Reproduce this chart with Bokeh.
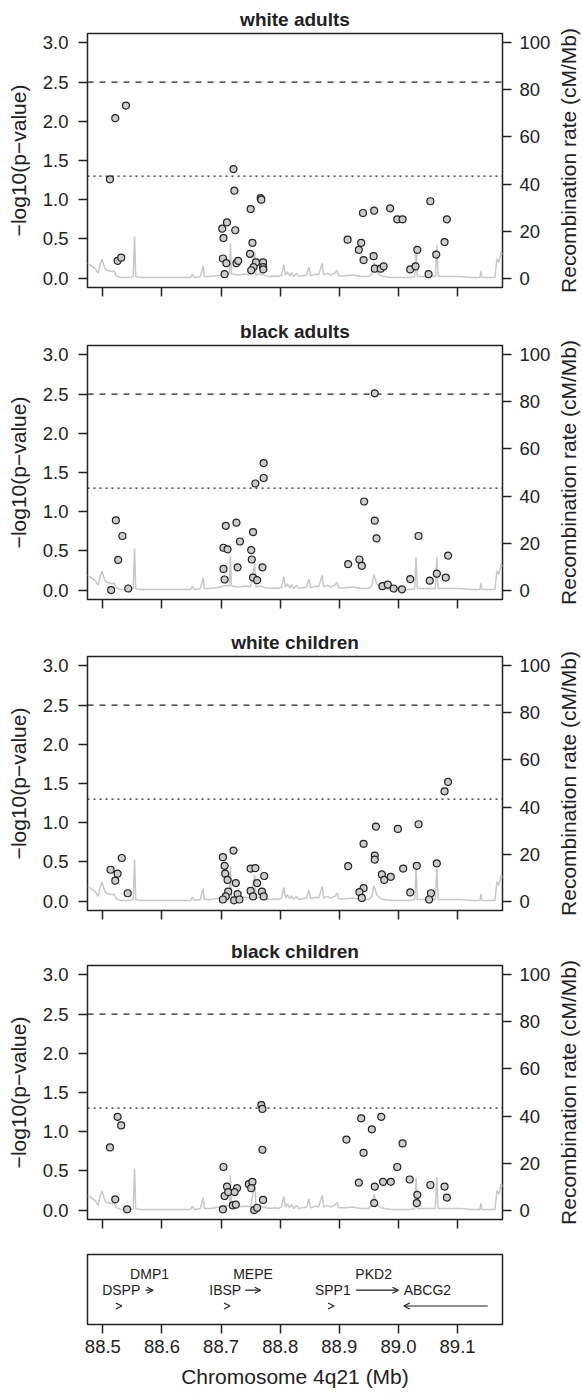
from bokeh.plotting import figure
from bokeh.models import (Range1d, LinearAxis, FixedTicker, PrintfTickFormatter,
                          Span, ColumnDataSource, Arrow, OpenHead,
                          CustomLabelingPolicy)
from bokeh.layouts import column, row
from bokeh.embed import file_html
from bokeh.resources import INLINE
from bokeh.core.properties import value

FONT = "Liberation Sans"
INK = "#222222"

# ---------------- data ----------------
x_ticks = [88.5, 88.6, 88.7, 88.8, 88.9, 89.0, 89.1]
p_ticks = [0.0, 0.5, 1.0, 1.5, 2.0, 2.5, 3.0]
rate_ticks = [0, 20, 40, 60, 80, 100]
sig_line = 2.5        # dashed threshold
nominal_line = 1.3    # dotted threshold (p = 0.05)

titles = ["white adults", "black adults", "white children", "black children"]

wa_x = [88.512, 88.521, 88.525, 88.531, 88.539,
        88.721, 88.7225, 88.767, 88.768, 88.750, 88.710, 88.702, 88.724, 88.704, 88.753,
        88.749, 88.703, 88.709, 88.726, 88.729, 88.759, 88.771, 88.755, 88.771, 88.751,
        88.7715, 88.706,
        88.914, 88.937, 88.933, 88.940, 88.959, 88.986, 88.998, 89.007, 89.054, 89.082,
        89.078, 89.032, 89.064, 88.941, 88.958, 88.960, 88.970, 88.975, 89.020, 89.029, 89.051]
wa_y = [1.26, 2.04, 0.22, 0.26, 2.20,
        1.39, 1.115, 1.02, 1.00, 0.88, 0.71, 0.63, 0.61, 0.51, 0.45,
        0.31, 0.25, 0.19, 0.19, 0.22, 0.20, 0.20, 0.14, 0.14, 0.10,
        0.11, 0.05,
        0.49, 0.45, 0.36, 0.83, 0.86, 0.89, 0.75, 0.75, 0.98, 0.75,
        0.46, 0.36, 0.30, 0.23, 0.28, 0.12, 0.12, 0.15, 0.11, 0.15, 0.05]

ba_x = [88.960, 88.772, 88.772, 88.758, 88.942, 88.522, 88.960, 88.726, 88.708, 88.533,
        89.034, 88.754, 88.732, 88.963, 88.704, 88.711, 88.751, 89.084, 88.526, 88.752,
        88.934, 88.915, 88.938, 88.704, 88.728, 88.770, 88.706, 88.754, 88.761, 89.020,
        89.053, 89.065, 89.080, 88.514, 88.543, 88.973, 88.982, 88.992, 89.006]
ba_y = [2.51, 1.62, 1.43, 1.36, 1.13, 0.89, 0.886, 0.86, 0.82, 0.69,
        0.69, 0.74, 0.62, 0.66, 0.54, 0.52, 0.51, 0.44, 0.385, 0.39,
        0.39, 0.33, 0.31, 0.27, 0.29, 0.29, 0.135, 0.16, 0.126, 0.14,
        0.12, 0.21, 0.16, 0.00, 0.02, 0.05, 0.07, 0.02, 0.01]

wc_x = [89.084, 89.078, 89.034, 88.962, 88.999, 88.941, 88.721, 88.532, 88.703, 88.960,
        88.960, 89.065, 88.915, 89.031, 88.706, 88.513, 88.750, 88.758, 89.008, 88.525,
        88.707, 88.773, 88.972, 88.987, 88.976, 88.521, 88.711, 88.725, 88.761, 88.941,
        88.934, 88.542, 88.712, 88.750, 88.769, 89.020, 88.728, 88.708, 88.754, 88.772,
        88.938, 89.055, 88.703, 88.722, 88.731, 89.052]
wc_y = [1.52, 1.40, 0.98, 0.95, 0.92, 0.73, 0.645, 0.55, 0.56, 0.58,
        0.53, 0.48, 0.445, 0.45, 0.45, 0.40, 0.415, 0.42, 0.415, 0.35,
        0.35, 0.32, 0.34, 0.31, 0.27, 0.26, 0.27, 0.23, 0.23, 0.165,
        0.115, 0.10, 0.12, 0.13, 0.12, 0.11, 0.09, 0.06, 0.06, 0.06,
        0.04, 0.10, 0.02, 0.01, 0.02, 0.02]

bc_x = [88.521, 88.541, 88.704, 88.710, 88.727, 88.706, 88.712, 88.723, 88.703, 88.720,
        88.725, 88.747, 88.753, 88.751, 88.771, 88.756, 88.761, 88.933, 88.960, 88.959,
        88.974, 88.987, 88.998, 89.019, 89.032, 89.031, 89.054, 89.078, 89.082, 88.525,
        88.768, 88.770, 88.937, 88.971, 88.512, 88.531, 88.770, 88.912, 88.941, 88.955,
        89.007]
bc_y = [0.137, 0.01, 0.55, 0.30, 0.28, 0.18, 0.23, 0.23, 0.01, 0.06,
        0.07, 0.33, 0.36, 0.28, 0.13, 0.00, 0.03, 0.35, 0.30, 0.09,
        0.36, 0.36, 0.55, 0.39, 0.195, 0.09, 0.32, 0.30, 0.16, 1.19,
        1.34, 1.29, 1.17, 1.19, 0.80, 1.08, 0.77, 0.90, 0.73, 1.03,
        0.85]

# recombination rate (cM/Mb) along the region
rec_mb = [88.4742, 88.4819, 88.4869, 88.4920, 88.4954, 88.4988, 88.5022, 88.5056, 88.5107, 88.5158,
          88.5192, 88.5225, 88.5293, 88.5378, 88.5463, 88.5514, 88.5536, 88.5556, 88.5632, 88.5802,
          88.5971, 88.6141, 88.6310, 88.6480, 88.6514, 88.6547, 88.6649, 88.6695, 88.6717, 88.6819,
          88.6903, 88.6988, 88.7073, 88.7141, 88.7158, 88.7175, 88.7293, 88.7412, 88.7497, 88.7569,
          88.7590, 88.7666, 88.7751, 88.7836, 88.7920, 88.7971, 88.8022, 88.8061, 88.8090, 88.8124,
          88.8158, 88.8192, 88.8225, 88.8276, 88.8310, 88.8378, 88.8446, 88.8485, 88.8514, 88.8598,
          88.8649, 88.8712, 88.8734, 88.8802, 88.8853, 88.8919, 88.8966, 88.8988, 88.9107, 88.9225,
          88.9361, 88.9497, 88.9547, 88.9586, 88.9632, 88.9700, 88.9869, 89.0039, 89.0208, 89.0276,
          89.0298, 89.0319, 89.0463, 89.0624, 89.0649, 89.0671, 89.0886, 89.1056, 89.1225, 89.1378,
          89.1395, 89.1412, 89.1564, 89.1632, 89.1666, 89.1700, 89.1734, 89.1768]
rec_rate = [6.3, 5.0, 4.0, 2.0, 6.0, 8.0, 5.0, 3.3, 3.0, 2.7,
            3.0, 1.0, 0.3, 0.3, 0.3, 0.7, 17.7, 0.7, 0.3, 0.3,
            0.2, 0.2, 0.3, 0.3, 1.7, 0.3, 0.7, 5.3, 0.7, 0.7,
            1.0, 1.3, 2.0, 1.7, 14.7, 1.7, 1.3, 1.7, 1.3, 11.3,
            1.3, 1.7, 1.0, 0.7, 1.0, 0.7, 1.3, 5.7, 1.3, 2.7,
            1.0, 2.3, 0.7, 2.0, 0.7, 1.0, 1.3, 4.7, 1.0, 1.7,
            1.3, 6.3, 1.3, 2.0, 1.3, 2.0, 3.3, 1.0, 1.0, 1.3,
            0.7, 0.7, 1.7, 6.7, 2.7, 1.0, 0.3, 0.3, 0.3, 0.7,
            14.0, 0.7, 0.7, 0.7, 14.0, 0.7, 0.7, 0.7, 0.3, 0.3,
            3.0, 0.3, 0.3, 0.3, 8.3, 6.7, 11.0, 10.0]

gene_names = ["DSPP", "DMP1", "IBSP", "MEPE", "SPP1", "PKD2", "ABCG2"]
gene_start = [88.529, 88.572, 88.712, 88.741, 88.888, 88.928, 89.151]
gene_end = [88.532, 88.585, 88.715, 88.767, 88.891, 89.000, 89.009]
gene_label_x = [88.531, 88.579, 88.707, 88.754, 88.889, 88.958, 89.049]
gene_row = [1, 2, 1, 2, 1, 2, 1]

rate_title = "Recombination rate (cM/Mb)"

# ---------------- layout ----------------
panels = [(wa_x, wa_y), (ba_x, ba_y), (wc_x, wc_y), (bc_x, bc_y)]
heights = [312, 311, 309, 313]
W = 582
STRIP = 28                     # strip right of each panel holding the right axis title
PW = W - STRIP
X_LO, X_HI = 88.474, 89.176
Y_LO, Y_HI = -0.12, 3.12
B_L = 87
FRAME_W = 415
FRAME_H = 254
TOP = 33

no_labels = CustomLabelingPolicy(code="""
for (const i of indices) { indices.unset(i) }
return indices
""")


def style_xaxis(ax, show_labels):
    ax.ticker = FixedTicker(ticks=x_ticks)
    ax.axis_line_color = None
    ax.major_tick_line_color = INK
    ax.major_tick_line_width = 1.5
    ax.major_tick_out = 9
    ax.major_tick_in = 0
    ax.minor_tick_line_color = None
    ax.major_label_text_font = FONT
    ax.major_label_text_color = INK
    if show_labels:
        ax.formatter = PrintfTickFormatter(format="%.1f")
        ax.major_label_text_font_size = "18.5px"
        ax.major_label_standoff = 6
    else:
        ax.major_label_policy = no_labels
        ax.major_label_text_font_size = "1px"
        ax.major_label_standoff = 0


def style_yaxis(ax, ticks, fmt, standoff):
    ax.ticker = FixedTicker(ticks=ticks)
    ax.formatter = PrintfTickFormatter(format=fmt)
    ax.axis_line_color = None
    ax.major_tick_line_color = INK
    ax.major_tick_line_width = 1.5
    ax.major_tick_out = 9
    ax.major_tick_in = 0
    ax.minor_tick_line_color = None
    ax.major_label_text_font = FONT
    ax.major_label_text_font_size = "18.5px"
    ax.major_label_text_color = INK
    ax.major_label_standoff = standoff


def make_panel(title, xs, ys, height):
    bottom = height - TOP - FRAME_H
    p = figure(width=PW, height=height, output_backend="svg", toolbar_location=None,
               x_range=Range1d(X_LO, X_HI), y_range=Range1d(Y_LO, Y_HI),
               min_border_left=B_L, min_border_right=PW - B_L - FRAME_W, min_border_top=TOP,
               min_border_bottom=bottom, title=title)
    p.extra_y_ranges = {"rate": Range1d(-4, 104)}
    p.xgrid.visible = False
    p.ygrid.visible = False
    p.outline_line_color = INK
    p.outline_line_width = 1.5
    p.background_fill_color = "white"
    p.border_fill_color = "white"

    p.title.align = "center"
    p.title.text_font = FONT
    p.title.text_font_size = "19px"
    p.title.text_font_style = "bold"
    p.title.text_color = INK
    p.title.standoff = 8

    style_xaxis(p.xaxis[0], False)

    ya = p.yaxis[0]
    style_yaxis(ya, p_ticks, "%.1f", 10)
    ya.axis_label = "\u2212log10(p\u2212value)"
    ya.axis_label_text_font = FONT
    ya.axis_label_text_font_size = "21px"
    ya.axis_label_text_font_style = "normal"
    ya.axis_label_text_color = INK
    ya.axis_label_standoff = 10

    ra = LinearAxis(y_range_name="rate")
    style_yaxis(ra, rate_ticks, "%d", 8)
    p.add_layout(ra, "right")

    p.line(rec_mb, rec_rate, y_range_name="rate", line_color="#c8c8c8", line_width=1.5)
    p.add_layout(Span(location=sig_line, dimension="width", line_color=INK,
                      line_dash="6 6", line_width=1.2, level="underlay"))
    p.add_layout(Span(location=nominal_line, dimension="width", line_color=INK,
                      line_dash="2 4", line_width=1.3, level="underlay"))
    p.scatter(xs, ys, size=7, fill_color="#cccccc", line_color=INK, line_width=1.2)

    # narrow strip to the right: its left-side title is the right-hand axis title
    s = figure(width=STRIP, height=height, output_backend="svg", toolbar_location=None,
               title=rate_title, title_location="left",
               min_border_left=0, min_border_right=0, min_border_top=TOP,
               min_border_bottom=bottom)
    s.axis.visible = False
    s.xgrid.visible = False
    s.ygrid.visible = False
    s.outline_line_color = None
    s.background_fill_color = "white"
    s.border_fill_color = "white"
    s.title.align = "center"
    s.title.text_font = FONT
    s.title.text_font_size = "21px"
    s.title.text_font_style = "normal"
    s.title.text_color = INK
    s.title.standoff = 0
    s.title.offset = 0
    return row(p, s, spacing=0)


rows = [make_panel(t, xs, ys, h) for t, (xs, ys), h in zip(titles, panels, heights)]

G_H = 1393 - sum(heights)
g = figure(width=W, height=G_H, output_backend="svg", toolbar_location=None,
           x_range=Range1d(X_LO, X_HI), y_range=Range1d(-0.17, 4.26),
           min_border_left=B_L, min_border_right=W - B_L - FRAME_W, min_border_top=9,
           min_border_bottom=G_H - 9 - 70)
g.xgrid.visible = False
g.ygrid.visible = False
g.yaxis.visible = False
g.outline_line_color = INK
g.outline_line_width = 1.5
style_xaxis(g.xaxis[0], True)
g.xaxis.axis_label = "Chromosome 4q21 (Mb)"
g.xaxis.axis_label_text_font = FONT
g.xaxis.axis_label_text_font_size = "21px"
g.xaxis.axis_label_text_font_style = "normal"
g.xaxis.axis_label_text_color = INK
g.xaxis.axis_label_standoff = 9

src = ColumnDataSource(dict(x0=gene_start, x1=gene_end, y=gene_row))
g.add_layout(Arrow(end=OpenHead(size=6, line_color=INK, line_width=1.2),
                   x_start="x0", y_start="y", x_end="x1", y_end="y",
                   line_color=INK, line_width=1.2, source=src))
g.text(x=gene_label_x, y=[r + 1 for r in gene_row], text=gene_names,
       text_font=value(FONT), text_font_size="14px", text_align="center",
       text_baseline="middle", text_color=INK)

layout = column(*rows, g, spacing=0)
open("out.html", "w").write(file_html(layout, INLINE))
